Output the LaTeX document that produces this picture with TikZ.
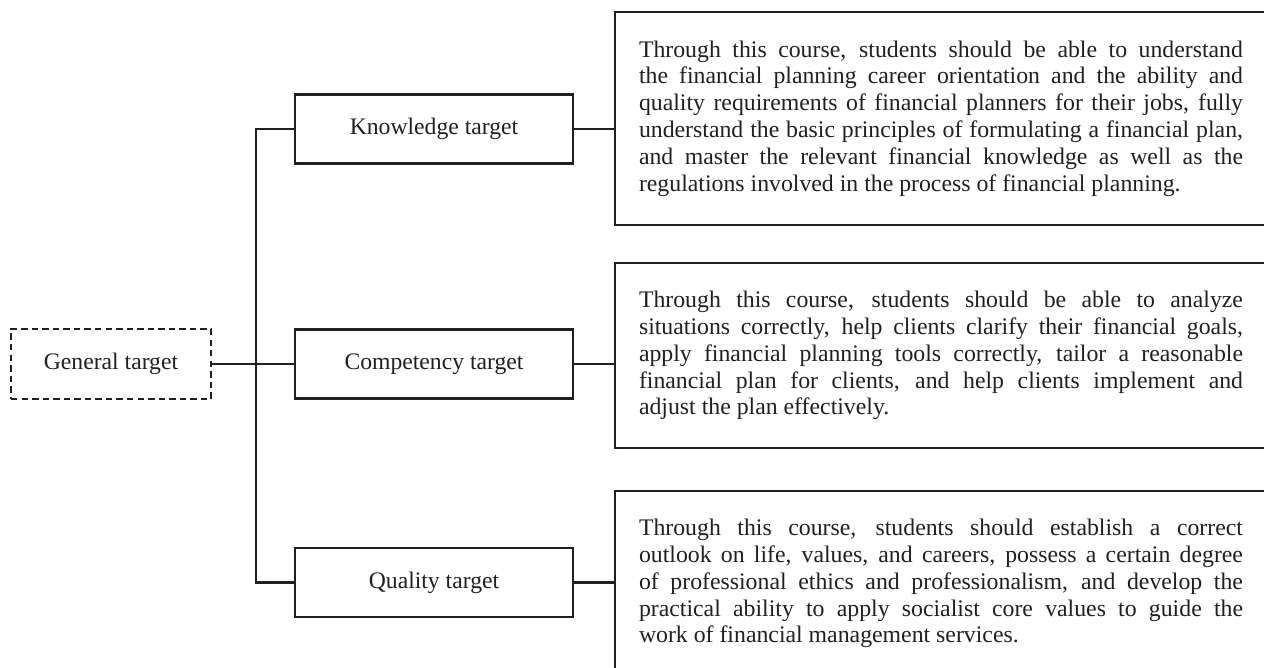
\documentclass[tikz,border=0pt]{standalone}
\usepackage{fontspec}
\setmainfont{Liberation Serif}
\usepackage{tikz}
\usetikzlibrary{positioning, calc}
\usepackage{xcolor}
\definecolor{inkblack}{RGB}{35, 31, 32}
\tolerance=10000
\hbadness=10000
\hyphenpenalty=10000
\setlength{\parindent}{0pt}
\tikzstyle{target} = [rectangle, minimum width=8.34cm, minimum height=2.07cm, text centered, draw=inkblack, line width=2pt, text=inkblack, font=\fontsize{20.2}{24}\selectfont]
\tikzstyle{goal} = [target, minimum width=6cm, minimum height=2.1cm, dash pattern=on 5.5pt off 3.5pt]
\tikzstyle{detail} = [rectangle, draw=inkblack, line width=2pt, text width=18.12cm, inner xsep=0.72cm, align=justify, text=inkblack, font=\fontsize{20.3}{22.9}\selectfont]
\tikzstyle{link} = [line width=2pt, inkblack]

\begin{document}
\begin{tikzpicture}
\useasboundingbox (0,0) rectangle (37.92,-20.04);

% Root of the tree
\node[goal] (general) at (3.33,-10.92) {General target};

% Three sub targets
\node[target] (knowledge) at (13.02,-3.87) {Knowledge target};
\node[target] (competency) at (13.02,-10.92) {Competency target};
\node[target] (quality) at (13.02,-17.475) {Quality target};

% Descriptions
\node[detail, minimum height=6.39cm] (knowdesc) at (28.23,-3.555) {Through this course, students should be able to understand\linebreak the financial planning career orientation and the ability and\linebreak quality requirements of financial planners for their jobs, fully\linebreak understand the basic principles of formulating a financial plan,\linebreak and master the relevant financial knowledge as well as the\linebreak regulations involved in the process of financial planning.};
\node[detail, minimum height=5.55cm] (compdesc) at (28.23,-10.665) {Through this course, students should be able to analyze\linebreak situations correctly, help clients clarify their financial goals,\linebreak apply financial planning tools correctly, tailor a reasonable\linebreak financial plan for clients, and help clients implement and\linebreak adjust the plan effectively.};
\node[detail, minimum height=5.55cm] (qualdesc) at (28.23,-17.505) {Through this course, students should establish a correct\linebreak outlook on life, values, and careers, possess a certain degree\linebreak of professional ethics and professionalism, and develop the\linebreak practical ability to apply socialist core values to guide the\linebreak work of financial management services.};

% Bracket from the root
\coordinate (bus) at (7.68,0);
\draw[link] (knowledge.west) -- (knowledge.west -| bus) -- (quality.west -| bus) -- (quality.west);
\draw[link] (general.east) -- (competency.west);

% Links to the descriptions
\draw[link] (knowledge.east) -- (knowledge.east -| knowdesc.west);
\draw[link] (competency.east) -- (competency.east -| compdesc.west);
\draw[link] (quality.east) -- (quality.east -| qualdesc.west);
\end{tikzpicture}
\end{document}
